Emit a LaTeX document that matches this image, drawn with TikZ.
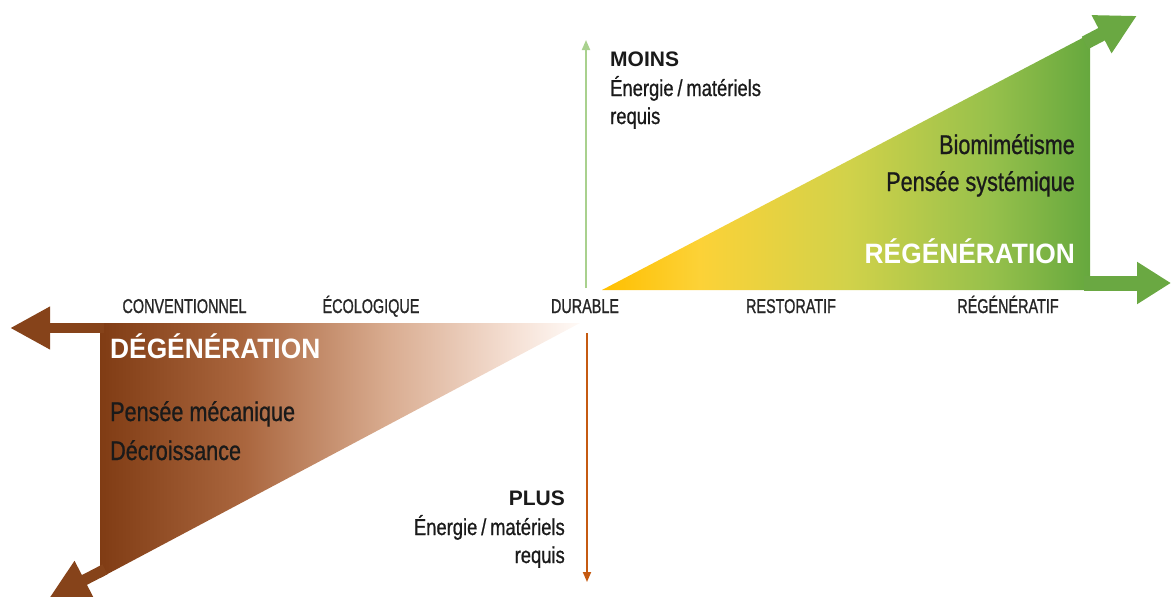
\documentclass[tikz,border=0pt]{standalone}
\usepackage{fontspec}
\setmainfont{Liberation Sans}
\newfontfamily\condfont[FakeStretch=0.72,FakeBold=1]{Liberation Sans}
\newfontfamily\bodyfont[FakeStretch=0.8,FakeBold=0.8]{Liberation Sans}
\newfontfamily\headfont[FakeStretch=0.94]{Liberation Sans}
\usetikzlibrary{arrows.meta}
\definecolor{brownarrow}{RGB}{134,67,26}
\definecolor{greenarrow}{RGB}{106,168,66}
\definecolor{axisgreen}{RGB}{169,209,142}
\definecolor{axisorange}{RGB}{197,90,17}
\definecolor{labelgrey}{RGB}{38,38,38}
\definecolor{textblack}{RGB}{26,26,26}
\definecolor{gA}{RGB}{255,191,0}
\definecolor{gB}{RGB}{252,210,55}
\definecolor{gC}{RGB}{210,210,74}
\definecolor{gD}{RGB}{150,192,75}
\definecolor{gE}{RGB}{102,168,62}
\definecolor{bA}{RGB}{128,60,20}
\definecolor{bB}{RGB}{170,102,62}
\definecolor{bC}{RGB}{217,172,144}
\definecolor{bD}{RGB}{245,224,212}
\definecolor{bE}{RGB}{255,250,247}
\pgfdeclarehorizontalshading{greenshade}{100bp}{color(0bp)=(gA); color(25bp)=(gA); color(35bp)=(gB); color(50bp)=(gC); color(65bp)=(gD); color(75bp)=(gE); color(100bp)=(gE)}
\pgfdeclarehorizontalshading{brownshade}{100bp}{color(0bp)=(bA); color(25bp)=(bA); color(40bp)=(bB); color(55bp)=(bC); color(68bp)=(bD); color(75bp)=(bE); color(100bp)=(bE)}
\tikzset{
  axislabel/.style={inner sep=0pt, anchor=base, text=labelgrey, font=\condfont\fontsize{20}{22}\selectfont},
  bodytext/.style={inner sep=0pt, text=textblack, font=\bodyfont\fontsize{27}{30}\selectfont},
  smalltext/.style={inner sep=0pt, text=textblack, font=\bodyfont\fontsize{23}{25}\selectfont},
  boldtext/.style={inner sep=0pt, text=textblack, font=\fontsize{21}{25}\selectfont\bfseries},
  headtext/.style={inner sep=0pt, text=white, font=\headfont\fontsize{28}{32}\selectfont\bfseries},
  bigarrowgreen/.style={draw=greenarrow, line width=14pt, -{Triangle[length=40pt,width=40pt]}},
  bigarrowbrown/.style={draw=brownarrow, line width=10pt, -{Triangle[length=40pt,width=40pt]}},
  thinaxis/.style={line width=1.8pt, -{Triangle[length=10pt,width=8pt]}}
}
\begin{document}
\begin{tikzpicture}[x=1pt,y=-1pt]
\path[use as bounding box] (0,0) rectangle (1171,597);
% key points
\coordinate (gApex) at (602,290);
\coordinate (gBR) at (1090,290);
\coordinate (gTR) at (1090,34);
\coordinate (bTL) at (100,323);
\coordinate (bApex) at (580,323);
\coordinate (bBL) at (100,578);
% fills
\shade[shading=greenshade] (gApex) -- (gBR) -- (gTR) -- cycle;
\shade[shading=brownshade] (bTL) -- (bApex) -- (bBL) -- cycle;
% big arrows
\coordinate (gDiagStart) at (1085,42.9);
\coordinate (gDiagTip) at (1137,15.7);
\coordinate (gRightStart) at (1084,283);
\coordinate (gRightTip) at (1171,283);
\coordinate (bLeftStart) at (104,328);
\coordinate (bLeftTip) at (10,328);
\coordinate (bDiagStart) at (105,569.3);
\coordinate (bDiagTip) at (48.9,598.3);
\draw[bigarrowgreen] (gDiagStart) -- (gDiagTip);
\draw[bigarrowgreen, line width=15pt, -{Triangle[length=34pt,width=40pt]}] (gRightStart) -- (gRightTip);
\draw[bigarrowbrown] (bLeftStart) -- (bLeftTip);
\draw[bigarrowbrown, line width=11pt] (bDiagStart) -- (bDiagTip);
% vertical axis
\coordinate (vUpStart) at (586,288);
\coordinate (vUpTip) at (586,40);
\coordinate (vDownStart) at (587,333);
\coordinate (vDownTip) at (587,582);
\draw[thinaxis, axisgreen] (vUpStart) -- (vUpTip);
\draw[thinaxis, axisorange] (vDownStart) -- (vDownTip);
% axis labels
\node[axislabel] (conv) at (184.5,313) {CONVENTIONNEL};
\node[axislabel] (eco) at (371,313) {ÉCOLOGIQUE};
\node[axislabel] (dur) at (585,313) {DURABLE};
\node[axislabel] (rest) at (791,313) {RESTORATIF};
\node[axislabel] (regf) at (1008,313) {RÉGÉNÉRATIF};
% headings
\node[headtext, anchor=base east] (regen) at (1075,263) {RÉGÉNÉRATION};
\node[headtext, anchor=base west] (degen) at (110,358) {DÉGÉNÉRATION};
% body texts
\node[bodytext, anchor=base east] (bio) at (1075,154) {Biomimétisme};
\node[bodytext, anchor=base east] (psys) at (1075,191) {Pensée systémique};
\node[bodytext, anchor=base west] (pmec) at (110,421) {Pensée mécanique};
\node[bodytext, anchor=base west] (decr) at (110,460) {Décroissance};
% moins / plus
\node[boldtext, anchor=base west] (moins) at (610,66) {MOINS};
\node[smalltext, anchor=base west] (moinsA) at (610,96) {Énergie\,/\,matériels};
\node[smalltext, anchor=base west] (moinsB) at (610,124) {requis};
\node[boldtext, anchor=base east] (plus) at (565,505) {PLUS};
\node[smalltext, anchor=base east] (plusA) at (565,535) {Énergie\,/\,matériels};
\node[smalltext, anchor=base east] (plusB) at (565,563) {requis};
\end{tikzpicture}
\end{document}
